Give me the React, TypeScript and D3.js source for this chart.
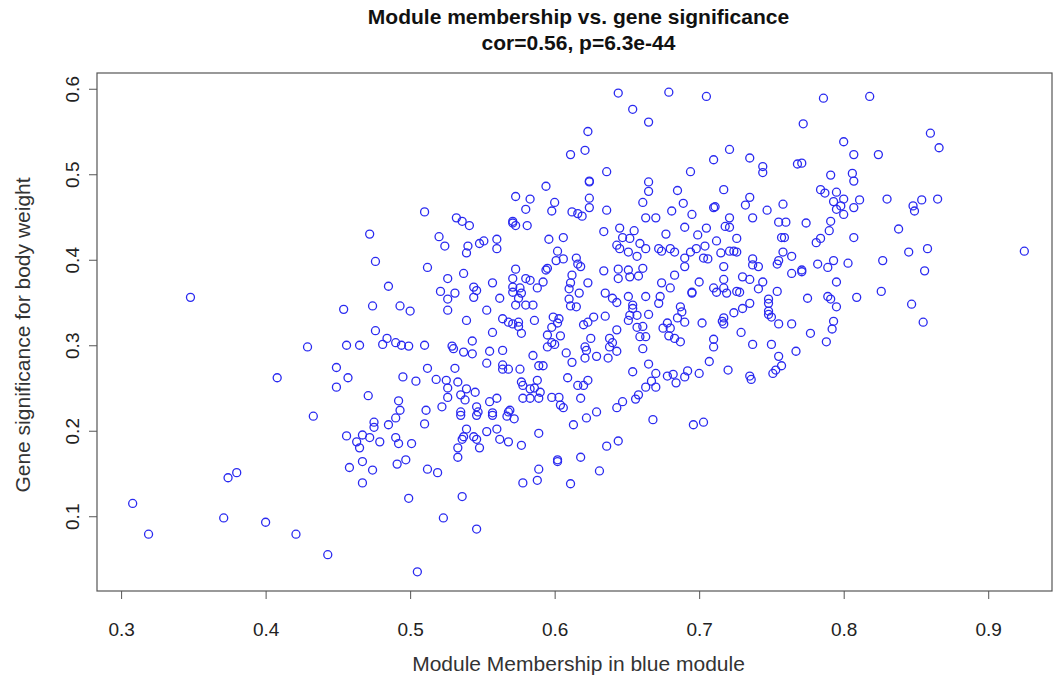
import React, { useEffect, useRef } from 'react'
import * as d3 from 'd3'

// module membership (x) and gene significance (y), one entry per gene
const moduleMembership = [
  0.348, 0.429, 0.449, 0.449, 0.408, 0.433, 0.380, 0.374, 0.308, 0.319,
  0.371, 0.400, 0.421, 0.443, 0.454, 0.456, 0.463, 0.467, 0.465, 0.472,
  0.475, 0.475, 0.479, 0.485, 0.490, 0.490, 0.492, 0.501, 0.510, 0.458,
  0.467, 0.474, 0.467, 0.491, 0.497, 0.512, 0.519, 0.499, 0.536, 0.523,
  0.546, 0.505, 0.539, 0.553, 0.560, 0.536, 0.537, 0.544, 0.546, 0.548,
  0.533, 0.533, 0.562, 0.568, 0.577, 0.589, 0.578, 0.588, 0.589, 0.535,
  0.546, 0.557, 0.567, 0.572, 0.613, 0.622, 0.668, 0.696, 0.703, 0.636,
  0.644, 0.602, 0.602, 0.618, 0.611, 0.631, 0.573, 0.583, 0.580, 0.510,
  0.472, 0.532, 0.536, 0.541, 0.571, 0.571, 0.573, 0.581, 0.520, 0.524,
  0.540, 0.548, 0.551, 0.560, 0.560, 0.539, 0.644, 0.679, 0.705, 0.654,
  0.665, 0.623, 0.611, 0.621, 0.721, 0.710, 0.636, 0.694, 0.594, 0.624,
  0.624, 0.665, 0.665, 0.685, 0.717, 0.600, 0.598, 0.624, 0.624, 0.612,
  0.616, 0.619, 0.636, 0.661, 0.689, 0.681, 0.695, 0.663, 0.670, 0.710,
  0.711, 0.721, 0.721, 0.634, 0.645, 0.655, 0.690, 0.705, 0.718, 0.596,
  0.606, 0.647, 0.652, 0.677, 0.699, 0.712, 0.726, 0.659, 0.680, 0.704,
  0.786, 0.818, 0.772, 0.860, 0.866, 0.800, 0.807, 0.824, 0.735, 0.744,
  0.744, 0.768, 0.771, 0.791, 0.806, 0.807, 0.784, 0.787, 0.795, 0.793,
  0.800, 0.795, 0.798, 0.800, 0.807, 0.811, 0.830, 0.848, 0.849, 0.854,
  0.865, 0.735, 0.732, 0.747, 0.758, 0.737, 0.755, 0.760, 0.774, 0.791,
  0.790, 0.757, 0.759, 0.781, 0.784, 0.807, 0.838, 0.925, 0.724, 0.726,
  0.737, 0.737, 0.741, 0.758, 0.764, 0.755, 0.754, 0.764, 0.771, 0.771,
  0.782, 0.789, 0.793, 0.803, 0.827, 0.845, 0.858, 0.856, 0.730, 0.735,
  0.744, 0.795, 0.741, 0.728, 0.754, 0.775, 0.789, 0.791, 0.795, 0.809,
  0.826, 0.847, 0.855, 0.748, 0.748, 0.735, 0.730, 0.724, 0.748, 0.748,
  0.750, 0.755, 0.764, 0.793, 0.792, 0.777, 0.788, 0.729, 0.737, 0.750,
  0.755, 0.767, 0.757, 0.751, 0.753, 0.735, 0.736, 0.476, 0.512, 0.537,
  0.526, 0.485, 0.521, 0.526, 0.531, 0.526, 0.544, 0.546, 0.544, 0.557,
  0.562, 0.573, 0.571, 0.571, 0.571, 0.580, 0.583, 0.576, 0.577, 0.575,
  0.580, 0.573, 0.588, 0.474, 0.493, 0.500, 0.553, 0.539, 0.557, 0.564,
  0.568, 0.571, 0.575, 0.575, 0.577, 0.586, 0.476, 0.456, 0.465, 0.481,
  0.484, 0.490, 0.494, 0.499, 0.510, 0.529, 0.530, 0.537, 0.543, 0.543,
  0.555, 0.564, 0.585, 0.553, 0.564, 0.564, 0.568, 0.576, 0.457, 0.471,
  0.512, 0.531, 0.495, 0.504, 0.518, 0.525, 0.526, 0.526, 0.533, 0.535,
  0.539, 0.545, 0.538, 0.492, 0.493, 0.511, 0.522, 0.535, 0.546, 0.547,
  0.555, 0.560, 0.557, 0.568, 0.569, 0.577, 0.578, 0.583, 0.578, 0.583,
  0.602, 0.601, 0.606, 0.595, 0.594, 0.615, 0.616, 0.618, 0.592, 0.612,
  0.611, 0.610, 0.617, 0.623, 0.634, 0.643, 0.645, 0.644, 0.644, 0.651,
  0.652, 0.658, 0.661, 0.651, 0.657, 0.663, 0.672, 0.674, 0.683, 0.690,
  0.690, 0.694, 0.698, 0.703, 0.706, 0.715, 0.721, 0.717, 0.683, 0.674,
  0.680, 0.700, 0.695, 0.695, 0.717, 0.717, 0.710, 0.712, 0.719, 0.726,
  0.635, 0.640, 0.643, 0.651, 0.654, 0.654, 0.657, 0.652, 0.651, 0.663,
  0.673, 0.672, 0.665, 0.687, 0.688, 0.685, 0.690, 0.678, 0.680, 0.675,
  0.702, 0.717, 0.716, 0.717, 0.610, 0.611, 0.615, 0.585, 0.599, 0.603,
  0.602, 0.598, 0.595, 0.604, 0.598, 0.600, 0.595, 0.620, 0.623, 0.627,
  0.635, 0.643, 0.625, 0.638, 0.640, 0.638, 0.643, 0.621, 0.622, 0.621,
  0.629, 0.637, 0.608, 0.612, 0.657, 0.661, 0.659, 0.663, 0.661, 0.679,
  0.683, 0.687, 0.710, 0.710, 0.707, 0.720, 0.665, 0.654, 0.670, 0.667,
  0.670, 0.678, 0.682, 0.684, 0.692, 0.690, 0.700, 0.663, 0.658, 0.656,
  0.592, 0.589, 0.588, 0.586, 0.590, 0.589, 0.598, 0.603, 0.604, 0.606,
  0.609, 0.616, 0.620, 0.623, 0.618, 0.629, 0.643, 0.647,
]

const geneSignificance = [
  0.356, 0.298, 0.274, 0.251, 0.262, 0.217, 0.151, 0.145, 0.115, 0.079,
  0.098, 0.093, 0.079, 0.055, 0.342, 0.194, 0.187, 0.195, 0.180, 0.192,
  0.210, 0.204, 0.187, 0.207, 0.215, 0.192, 0.185, 0.185, 0.208, 0.157,
  0.164, 0.154, 0.139, 0.161, 0.166, 0.155, 0.151, 0.121, 0.123, 0.098,
  0.085, 0.035, 0.202, 0.199, 0.202, 0.190, 0.193, 0.193, 0.190, 0.180,
  0.180, 0.169, 0.190, 0.187, 0.183, 0.197, 0.139, 0.142, 0.155, 0.218,
  0.218, 0.218, 0.217, 0.214, 0.207, 0.215, 0.213, 0.207, 0.210, 0.182,
  0.188, 0.166, 0.164, 0.169, 0.138, 0.153, 0.474, 0.471, 0.459, 0.456,
  0.430, 0.449, 0.445, 0.440, 0.445, 0.443, 0.440, 0.440, 0.427, 0.416,
  0.416, 0.419, 0.422, 0.424, 0.413, 0.408, 0.595, 0.596, 0.591, 0.576,
  0.561, 0.550, 0.523, 0.528, 0.529, 0.517, 0.503, 0.503, 0.486, 0.491,
  0.492, 0.491, 0.480, 0.481, 0.482, 0.467, 0.457, 0.472, 0.461, 0.456,
  0.454, 0.451, 0.458, 0.467, 0.466, 0.457, 0.453, 0.449, 0.449, 0.461,
  0.462, 0.449, 0.438, 0.433, 0.437, 0.434, 0.438, 0.437, 0.439, 0.424,
  0.426, 0.426, 0.425, 0.430, 0.429, 0.422, 0.425, 0.419, 0.413, 0.416,
  0.589, 0.591, 0.559, 0.548, 0.531, 0.538, 0.523, 0.523, 0.519, 0.509,
  0.502, 0.512, 0.513, 0.499, 0.501, 0.492, 0.482, 0.478, 0.479, 0.468,
  0.471, 0.459, 0.463, 0.453, 0.461, 0.470, 0.471, 0.463, 0.457, 0.470,
  0.471, 0.473, 0.464, 0.458, 0.465, 0.449, 0.444, 0.444, 0.443, 0.445,
  0.434, 0.426, 0.426, 0.420, 0.425, 0.426, 0.436, 0.410, 0.410, 0.409,
  0.401, 0.394, 0.392, 0.409, 0.404, 0.399, 0.395, 0.384, 0.388, 0.386,
  0.395, 0.391, 0.399, 0.396, 0.399, 0.409, 0.413, 0.387, 0.380, 0.377,
  0.374, 0.374, 0.366, 0.362, 0.363, 0.355, 0.357, 0.354, 0.345, 0.356,
  0.363, 0.348, 0.327, 0.354, 0.349, 0.349, 0.343, 0.338, 0.340, 0.336,
  0.333, 0.325, 0.325, 0.328, 0.319, 0.314, 0.304, 0.315, 0.301, 0.301,
  0.287, 0.293, 0.276, 0.267, 0.271, 0.264, 0.260, 0.398, 0.391, 0.384,
  0.378, 0.369, 0.363, 0.354, 0.361, 0.341, 0.368, 0.364, 0.356, 0.373,
  0.355, 0.389, 0.378, 0.368, 0.362, 0.378, 0.376, 0.367, 0.361, 0.355,
  0.347, 0.347, 0.367, 0.346, 0.346, 0.340, 0.341, 0.329, 0.315, 0.331,
  0.327, 0.325, 0.327, 0.322, 0.314, 0.329, 0.317, 0.300, 0.300, 0.301,
  0.308, 0.303, 0.300, 0.299, 0.300, 0.299, 0.296, 0.292, 0.290, 0.305,
  0.293, 0.294, 0.288, 0.279, 0.277, 0.272, 0.272, 0.272, 0.262, 0.241,
  0.273, 0.273, 0.263, 0.258, 0.260, 0.259, 0.250, 0.239, 0.257, 0.242,
  0.249, 0.245, 0.236, 0.235, 0.224, 0.224, 0.228, 0.222, 0.228, 0.222,
  0.234, 0.238, 0.221, 0.222, 0.224, 0.257, 0.253, 0.249, 0.238, 0.238,
  0.410, 0.399, 0.401, 0.390, 0.388, 0.402, 0.395, 0.392, 0.374, 0.382,
  0.373, 0.366, 0.361, 0.373, 0.387, 0.417, 0.413, 0.389, 0.378, 0.388,
  0.380, 0.381, 0.390, 0.409, 0.404, 0.413, 0.413, 0.410, 0.409, 0.402,
  0.392, 0.409, 0.413, 0.402, 0.401, 0.408, 0.410, 0.392, 0.382, 0.373,
  0.367, 0.374, 0.362, 0.361, 0.377, 0.367, 0.367, 0.362, 0.361, 0.363,
  0.361, 0.355, 0.350, 0.357, 0.347, 0.343, 0.335, 0.335, 0.329, 0.357,
  0.357, 0.349, 0.336, 0.345, 0.339, 0.332, 0.327, 0.326, 0.320, 0.320,
  0.326, 0.332, 0.328, 0.325, 0.354, 0.346, 0.345, 0.347, 0.333, 0.331,
  0.326, 0.321, 0.312, 0.311, 0.303, 0.301, 0.298, 0.324, 0.327, 0.333,
  0.334, 0.318, 0.308, 0.308, 0.303, 0.298, 0.293, 0.298, 0.294, 0.285,
  0.287, 0.285, 0.291, 0.280, 0.321, 0.322, 0.310, 0.310, 0.296, 0.311,
  0.308, 0.304, 0.307, 0.298, 0.281, 0.271, 0.278, 0.269, 0.267, 0.258,
  0.251, 0.264, 0.266, 0.256, 0.270, 0.263, 0.267, 0.251, 0.242, 0.237,
  0.276, 0.276, 0.259, 0.250, 0.245, 0.238, 0.239, 0.239, 0.230, 0.227,
  0.262, 0.253, 0.253, 0.259, 0.238, 0.222, 0.227, 0.234,
]

const xTicks = [0.3, 0.4, 0.5, 0.6, 0.7, 0.8, 0.9]
const yTicks = [0.1, 0.2, 0.3, 0.4, 0.5, 0.6]

const chartTitle = 'Module membership vs. gene significance'
const chartSubtitle = 'cor=0.56, p=6.3e-44'
const xLabel = 'Module Membership in blue module'
const yLabel = 'Gene significance for body weight'

const width = 1054
const height = 680
const font = 'Liberation Sans, Arial, Helvetica, sans-serif'

// R style axis limits: data range widened by 4%
function padExtent(vals: number[]): [number, number] {
  const [lo, hi] = d3.extent(vals) as [number, number]
  const p = (hi - lo) * 0.04
  return [lo - p, hi + p]
}

export default function App() {
  const ref = useRef<SVGSVGElement>(null)

  useEffect(() => {
    const svg = d3.select(ref.current)
    svg.selectAll('*').remove()

    const left = 97, right = 1060, top = 73, bottom = 591

    const x = d3.scaleLinear().domain(padExtent(moduleMembership)).range([left, right])
    const y = d3.scaleLinear().domain(padExtent(geneSignificance)).range([bottom, top])

    // plot box (right side runs off the picture)
    svg.append('rect')
      .attr('x', left)
      .attr('y', top)
      .attr('width', Math.min(right, width - 2) - left)
      .attr('height', bottom - top)
      .attr('fill', 'none')
      .attr('stroke', '#555')
      .attr('stroke-width', 1.2)

    // x axis
    const xAxis = svg.append('g')
      .attr('transform', `translate(0,${bottom})`)
      .call(d3.axisBottom(x).tickValues(xTicks).tickSize(8).tickPadding(24).tickFormat(d3.format('.1f')))
    xAxis.select('.domain').remove()
    xAxis.selectAll('line').attr('stroke', '#555')
    xAxis.selectAll('text')
      .attr('font-family', font)
      .attr('font-size', 19)
      .attr('fill', '#222')

    // y axis, labels turned like R's default
    const yAxis = svg.append('g')
      .attr('transform', `translate(${left},0)`)
      .call(d3.axisLeft(y).tickValues(yTicks).tickSize(8).tickFormat(d3.format('.1f')))
    yAxis.select('.domain').remove()
    yAxis.selectAll('line').attr('stroke', '#555')
    yAxis.selectAll('text')
      .attr('font-family', font)
      .attr('font-size', 19)
      .attr('fill', '#222')
      .attr('x', 0)
      .attr('dy', 0)
      .attr('text-anchor', 'middle')
      .attr('transform', 'translate(-18,0) rotate(-90)')

    // points
    svg.append('g')
      .selectAll('circle')
      .data(moduleMembership)
      .enter()
      .append('circle')
      .attr('cx', (d) => x(d))
      .attr('cy', (d, i) => y(geneSignificance[i]))
      .attr('r', 4)
      .attr('fill', 'none')
      .attr('stroke', '#2a2af0')
      .attr('stroke-width', 1.3)

    // titles
    const mid = (left + right) / 2
    svg.append('text')
      .attr('x', mid).attr('y', 24)
      .attr('text-anchor', 'middle')
      .attr('font-family', font).attr('font-weight', 'bold').attr('font-size', 21)
      .attr('fill', '#111')
      .text(chartTitle)
    svg.append('text')
      .attr('x', mid).attr('y', 50)
      .attr('text-anchor', 'middle')
      .attr('font-family', font).attr('font-weight', 'bold').attr('font-size', 21)
      .attr('fill', '#111')
      .text(chartSubtitle)

    svg.append('text')
      .attr('x', mid).attr('y', 671)
      .attr('text-anchor', 'middle')
      .attr('font-family', font).attr('font-size', 21)
      .attr('fill', '#333')
      .text(xLabel)

    svg.append('text')
      .attr('transform', `translate(30,${(top + bottom) / 2 + 3}) rotate(-90)`)
      .attr('text-anchor', 'middle')
      .attr('font-family', font).attr('font-size', 21)
      .attr('fill', '#333')
      .text(yLabel)
  }, [])

  return (
    <svg
      ref={ref}
      width={width}
      height={height}
      style={{ position: 'absolute', left: 0, top: 0, background: '#fff' }}
    />
  )
}
